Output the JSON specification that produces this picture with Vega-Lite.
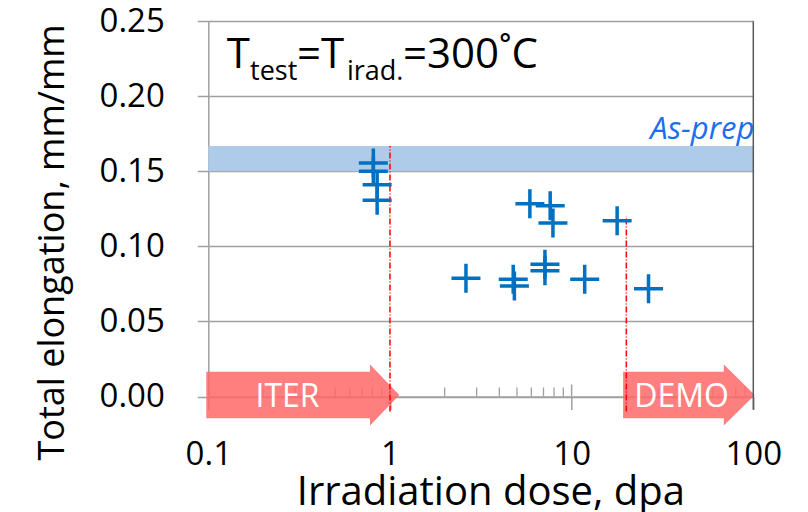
{
  "$schema": "https://vega.github.io/schema/vega-lite/v6.json",
  "width": 545,
  "height": 375.5,
  "autosize": {"type": "none"},
  "padding": {"left": 208.3, "top": 21, "right": 54.7, "bottom": 115.5},
  "background": "white",
  "config": {"font": "Open Sans", "view": {"stroke": null}},
  "datasets": {
    "points": [
      {"dose": 0.81, "elong": 0.1555},
      {"dose": 0.81, "elong": 0.150},
      {"dose": 0.85, "elong": 0.141},
      {"dose": 0.85, "elong": 0.1307},
      {"dose": 5.89, "elong": 0.1283},
      {"dose": 7.62, "elong": 0.127},
      {"dose": 7.89, "elong": 0.1155},
      {"dose": 17.8, "elong": 0.117},
      {"dose": 2.62, "elong": 0.0787},
      {"dose": 4.77, "elong": 0.0781},
      {"dose": 4.84, "elong": 0.0735},
      {"dose": 7.13, "elong": 0.0881},
      {"dose": 7.13, "elong": 0.0837},
      {"dose": 11.8, "elong": 0.0781},
      {"dose": 26.5, "elong": 0.0717}
    ],
    "band": [{"dose": 0.1, "dose2": 100, "elong": 0.15, "elong2": 0.1667, "label": "As-prep"}],
    "regions": [
      {"name": "ITER", "dose": 0.1, "center": 0.273},
      {"name": "DEMO", "dose": 19.2, "center": 40.3}
    ],
    "limits": [{"dose": 1, "elong": -0.01, "top": 0.1667}, {"dose": 20, "elong": -0.01, "top": 0.12}],
    "minor": [
      {"dose": 0.2}, {"dose": 0.3}, {"dose": 0.4}, {"dose": 0.5}, {"dose": 0.6}, {"dose": 0.7}, {"dose": 0.8}, {"dose": 0.9},
      {"dose": 2}, {"dose": 3}, {"dose": 4}, {"dose": 5}, {"dose": 6}, {"dose": 7}, {"dose": 8}, {"dose": 9},
      {"dose": 20}, {"dose": 30}, {"dose": 40}, {"dose": 50}, {"dose": 60}, {"dose": 70}, {"dose": 80}, {"dose": 90}
    ],
    "major": [{"dose": 1}, {"dose": 10}],
    "edge": [{"dose": 100}],
    "bigtext": [
      {"dose": 0.1263, "elong": 0.2185, "t": "T"},
      {"dose": 0.3078, "elong": 0.2185, "t": "=T"},
      {"dose": 1.179, "elong": 0.2185, "t": "=300˚C"}
    ],
    "subtext": [
      {"dose": 0.1697, "elong": 0.2108, "t": "test"},
      {"dose": 0.5794, "elong": 0.2108, "t": "irad."}
    ]
  },
  "layer": [
    {
      "data": {"name": "band"},
      "mark": {"type": "rect", "color": "#AECBEA"},
      "encoding": {
        "x": {
          "field": "dose", "type": "quantitative",
          "scale": {"type": "log", "domain": [0.1, 100], "nice": false},
          "axis": {
            "title": "Irradiation dose, dpa",
            "values": [0.1, 1, 10, 100],
            "format": "~g",
            "grid": false,
            "labelFlush": false,
            "labelOverlap": false,
            "domainColor": "#A0A0A0",
            "domainWidth": 1.5,
            "tickColor": "#A0A0A0",
            "tickWidth": 1.5,
            "tickSize": 13,
            "labelFontSize": 33,
            "labelColor": "#000000",
            "labelPadding": 29,
            "titleFontSize": 40,
            "titleFontWeight": "normal",
            "titleColor": "#000000",
            "titleX": 282,
            "titleY": 108,
            "titleBaseline": "alphabetic",
            "titleAlign": "center"
          }
        },
        "x2": {"field": "dose2"},
        "y": {
          "field": "elong", "type": "quantitative",
          "scale": {"domain": [0, 0.25], "nice": false, "zero": false},
          "axis": {
            "title": "Total elongation, mm/mm",
            "values": [0, 0.05, 0.1, 0.15, 0.2, 0.25],
            "format": ".2f",
            "grid": true,
            "labelOverlap": false,
            "gridColor": "#A0A0A0",
            "gridWidth": 1.5,
            "domainColor": "#A0A0A0",
            "domainWidth": 1.5,
            "tickColor": "#A0A0A0",
            "tickWidth": 1.5,
            "tickSize": 11,
            "labelFontSize": 33,
            "labelColor": "#000000",
            "labelPadding": 33,
            "titleFontSize": 36,
            "titleFontWeight": "normal",
            "titleColor": "#000000",
            "titleX": -145,
            "titleY": 221,
            "titleAngle": 270,
            "titleBaseline": "alphabetic",
            "titleAlign": "center"
          }
        },
        "y2": {"field": "elong2"}
      }
    },
    {
      "data": {"name": "minor"},
      "mark": {"type": "tick", "orient": "vertical", "color": "#A0A0A0", "size": 9, "thickness": 1.3, "opacity": 1},
      "encoding": {
        "x": {"field": "dose", "type": "quantitative"},
        "y": {"datum": 0.003, "type": "quantitative"}
      }
    },
    {
      "data": {"name": "major"},
      "mark": {"type": "tick", "orient": "vertical", "color": "#A0A0A0", "size": 12, "thickness": 1.5, "opacity": 1},
      "encoding": {
        "x": {"field": "dose", "type": "quantitative"},
        "y": {"datum": 0.004, "type": "quantitative"}
      }
    },
    {
      "data": {"name": "regions"},
      "mark": {"type": "point", "size": 4, "filled": true, "fill": "#FF6868", "opacity": 0.85, "strokeWidth": 0},
      "encoding": {
        "x": {"field": "dose", "type": "quantitative"},
        "y": {"datum": 0.001, "type": "quantitative"},
        "shape": {
          "field": "name", "type": "nominal", "legend": null,
          "scale": {
            "domain": ["ITER", "DEMO"],
            "range": [
              "M -2 -23.3 L 161.7 -23.3 L 161.7 -30.5 L 191 0 L 161.7 30.5 L 161.7 23.3 L -2 23.3 Z",
              "M 0 -23.3 L 100.7 -23.3 L 100.7 -30.5 L 131.7 0 L 100.7 30.5 L 100.7 23.3 L 0 23.3 Z"
            ]
          }
        }
      }
    },
    {
      "data": {"name": "regions"},
      "mark": {"type": "text", "color": "#FFFFFF", "fontSize": 32, "align": "center", "baseline": "alphabetic"},
      "encoding": {
        "x": {"field": "center", "type": "quantitative"},
        "y": {"datum": -0.0068, "type": "quantitative"},
        "text": {"field": "name", "type": "nominal"}
      }
    },
    {
      "data": {"name": "limits"},
      "mark": {"type": "rule", "color": "#FF0000", "strokeWidth": 1.5, "strokeDash": [6, 2, 1, 2]},
      "encoding": {
        "x": {"field": "dose", "type": "quantitative"},
        "y": {"field": "elong", "type": "quantitative"},
        "y2": {"field": "top"}
      }
    },
    {
      "data": {"name": "edge"},
      "mark": {"type": "tick", "orient": "vertical", "color": "#595959", "size": 388.5, "thickness": 1.5, "opacity": 1},
      "encoding": {
        "x": {"field": "dose", "type": "quantitative"},
        "y": {"datum": 0.1205, "type": "quantitative"}
      }
    },
    {
      "data": {"name": "points"},
      "mark": {"type": "point", "shape": "M -1 0 L 1 0 M 0 -1 L 0 1", "size": 841, "filled": false, "stroke": "#0070C0", "strokeWidth": 3.5, "opacity": 1},
      "encoding": {
        "x": {"field": "dose", "type": "quantitative"},
        "y": {"field": "elong", "type": "quantitative"}
      }
    },
    {
      "data": {"name": "band"},
      "mark": {"type": "text", "color": "#1A6EF2", "fontSize": 31, "fontStyle": "italic", "align": "right", "baseline": "alphabetic", "dx": 1},
      "encoding": {
        "x": {"field": "dose2", "type": "quantitative"},
        "y": {"datum": 0.1717, "type": "quantitative"},
        "text": {"field": "label", "type": "nominal"}
      }
    },
    {
      "data": {"name": "bigtext"},
      "mark": {"type": "text", "color": "#000000", "fontSize": 42, "align": "left", "baseline": "alphabetic"},
      "encoding": {
        "x": {"field": "dose", "type": "quantitative"},
        "y": {"field": "elong", "type": "quantitative"},
        "text": {"field": "t", "type": "nominal"}
      }
    },
    {
      "data": {"name": "subtext"},
      "mark": {"type": "text", "color": "#000000", "fontSize": 27, "align": "left", "baseline": "alphabetic"},
      "encoding": {
        "x": {"field": "dose", "type": "quantitative"},
        "y": {"field": "elong", "type": "quantitative"},
        "text": {"field": "t", "type": "nominal"}
      }
    }
  ]
}
